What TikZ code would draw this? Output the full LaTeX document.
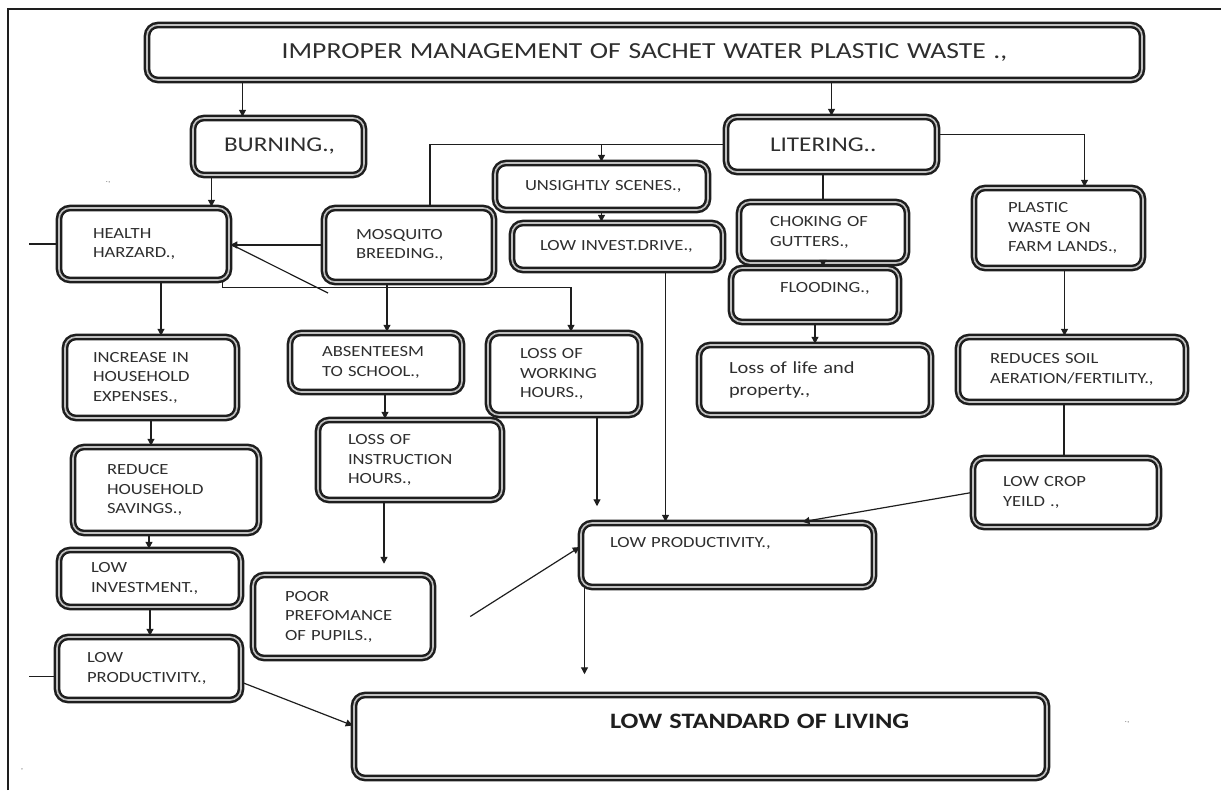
\documentclass[tikz,border=0pt]{standalone}
\usepackage{fontspec}
\setmainfont[FakeStretch=1.2]{Carlito}
\usetikzlibrary{arrows.meta, positioning}
\definecolor{ink}{HTML}{1E1E1E}
\definecolor{txt}{HTML}{2E2E2E}
\hyphenpenalty=10000
\exhyphenpenalty=10000

\begin{document}
\begin{tikzpicture}[x=1pt, y=-1pt,
  box/.style={draw=ink, line width=2.5pt, double=gray!50, double distance=1.6pt, rounded corners=11pt, align=left, inner xsep=1pt, inner ysep=2pt, text=txt, font=\fontsize{15.5}{19.5}\selectfont},
  big/.style={font=\fontsize{21}{25}\selectfont},
  arr/.style={-{Triangle[length=7pt,width=7pt]}, line width=1.2pt, draw=ink},
  ln/.style={line width=1.2pt, draw=ink},
  stray/.style={text=gray, font=\footnotesize, inner sep=0pt},
]
\useasboundingbox (0,0) rectangle (1221,790);
% ---- frame
\draw[line width=1.2pt, ink] (8,790) -- (8,9) -- (1221,9);

% ---- top row
\node[box, font=\fontsize{23}{27}\selectfont, align=center, minimum width=995pt, minimum height=55pt, text width=960pt] (top) at (644.5,52.5) {IMPROPER MANAGEMENT OF SACHET WATER PLASTIC WASTE~.,};
\node[box, big, minimum width=171pt, minimum height=57pt, text width=109pt] (burn) at (278.5,146.5) {BURNING.,};
\node[box, big, minimum width=211pt, minimum height=55pt, text width=123pt] (lit) at (831.5,144.5) {LITERING..};

% ---- litering side
\node[box, minimum width=213pt, minimum height=47pt, text width=153pt] (ugly) at (601.5,186.5) {\mbox{UNSIGHTLY SCENES.,}};
\node[box, minimum width=211pt, minimum height=47pt, text width=155pt] (drive) at (617.5,246.5) {\mbox{LOW INVEST.DRIVE.,}};
\node[box, minimum width=168pt, minimum height=61pt, text width=106pt] (choke) at (823,232.5) {\mbox{CHOKING OF}\\GUTTERS.,};
\node[box, minimum width=168pt, minimum height=54pt, text width=70pt, text depth=16pt] (flood) at (815,295) {\mbox{FLOODING.,}};
\node[box, minimum width=169pt, minimum height=80pt, text width=101pt] (farm) at (1058.5,228) {PLASTIC\\\mbox{WASTE ON}\\\mbox{FARM LANDS.,}};
\node[box, font=\fontsize{17}{22}\selectfont, minimum width=232pt, minimum height=70pt, text width=172pt] (life) at (815,380) {\mbox{Loss of life and}\\property.,};
\node[box, minimum width=228pt, minimum height=65pt, text width=164pt] (soil) at (1072,369.5) {\mbox{REDUCES SOIL}\\\mbox{AERATION/FERTILITY.,}};
\node[box, minimum width=186pt, minimum height=69pt, text width=126pt] (crop) at (1066,492.5) {\mbox{LOW CROP}\\\mbox{YEILD .,}};
\node[box, minimum width=293pt, minimum height=64pt, text width=235pt, text depth=26pt] (prodm) at (727.5,555) {\mbox{LOW PRODUCTIVITY.,}};

% ---- burning side
\node[box, minimum width=170pt, minimum height=72pt, text width=102pt] (health) at (144,244) {HEALTH\\\mbox{HARZARD.,}};
\node[box, minimum width=170pt, minimum height=74pt, text width=106pt] (mosq) at (409,245) {MOSQUITO\\\mbox{BREEDING.,}};
\node[box, minimum width=172pt, minimum height=81pt, text width=116pt] (expense) at (151,377.5) {\mbox{INCREASE IN}\\HOUSEHOLD\\\mbox{EXPENSES.,}};
\node[box, minimum width=172pt, minimum height=59pt, text width=108pt] (absent) at (376,362.5) {\mbox{ABSENTEESM}\\\mbox{TO SCHOOL.,}};
\node[box, minimum width=152pt, minimum height=82pt, text width=88pt] (work) at (564,374) {\mbox{LOSS OF}\\WORKING\\\mbox{HOURS.,}};
\node[box, minimum width=184pt, minimum height=80pt, text width=124pt] (instr) at (410,460) {\mbox{LOSS OF}\\INSTRUCTION\\\mbox{HOURS.,}};
\node[box, minimum width=186pt, minimum height=86pt, text width=118pt] (saving) at (166,490) {REDUCE\\HOUSEHOLD\\\mbox{SAVINGS.,}};
\node[box, minimum width=182pt, minimum height=57pt, text width=118pt] (invest) at (150,578.5) {LOW\\\mbox{INVESTMENT.,}};
\node[box, minimum width=180pt, minimum height=83pt, text width=116pt] (pupil) at (343,616.5) {POOR\\PREFOMANCE\\\mbox{OF PUPILS.,}};
\node[box, minimum width=184pt, minimum height=63pt, text width=124pt] (prodl) at (149,668.5) {LOW\\\mbox{PRODUCTIVITY.,}};

% ---- outcome
\node[box, font=\bfseries\fontsize{22}{26}\selectfont, text=ink, minimum width=693pt, minimum height=83pt, text width=181pt, text depth=31pt] (living) at (700.5,736.5) {\mbox{LOW STANDARD OF LIVING}};

% ---- stray marks
\node[stray] (m1) at (108,183) {.,};
\node[stray] (m2) at (1127,723) {.,};
\node[stray] (m3) at (22,770) {,};

% ---- top level
\draw[arr] ([xshift=-36pt]burn.north |- top.south) -- ([xshift=-36pt]burn.north);
\draw[arr] (top.south -| lit.north) -- (lit.north);
\draw[arr] ([xshift=-67pt]burn.south) -- ([xshift=-67pt]burn.south |- health.north);

% ---- litering branches
\draw[ln] (lit.west) -| ([xshift=21pt]mosq.north);
\draw[arr] (lit.west -| ugly.north) -- (ugly.north);
\draw[arr] ([yshift=10pt]lit.east) -| ([xshift=26pt]farm.north);
\draw[ln] (lit.south -| choke.north) -- (choke.north);
\draw[arr] (ugly.south) -- (ugly.south |- drive.north);
\draw[arr] ([xshift=-62pt]prodm.north |- drive.south) -- ([xshift=-62pt]prodm.north);
\draw[arr] (choke.south) -- (choke.south |- flood.north);
\draw[arr] (flood.south) -- (flood.south |- life.north);
\draw[arr] ([xshift=6pt]farm.south) -- ([xshift=6pt]farm.south |- soil.north);
\draw[ln] ([xshift=-8pt]soil.south) -- ([xshift=-8pt]soil.south |- crop.north);
\draw[arr] (crop.west) -- ([xshift=75pt]prodm.north);

% ---- health cluster
\draw[arr] (mosq.west) -- (mosq.west -| health.east);
\coordinate (stub) at (328,293);
\draw[ln] (stub) -- (health.east);
\draw[ln] (health.west) -- ++(-29,0);
\draw[arr] ([xshift=17pt]health.south) -- ([xshift=17pt]health.south |- expense.north);
\draw[arr] ([xshift=-8pt]health.south east) -- ++(0,6) -| ([xshift=7pt]work.north);
\draw[arr] ([xshift=-22pt]mosq.south) -- ([xshift=-22pt]mosq.south |- absent.north);
\draw[arr] ([xshift=9pt]absent.south) -- ([xshift=9pt]absent.south |- instr.north);
\draw[arr, shorten >=10pt] ([xshift=-26pt]instr.south) -- ([xshift=-26pt]instr.south |- pupil.north);
\draw[arr] ([xshift=33pt]work.south) -- ++(0,90);
\draw[arr] ([xshift=-143pt]prodm.south) -- ++(0,86);
\draw[arr] ([xshift=36pt]pupil.east) -- ([yshift=8pt]prodm.west);

% ---- left column
\draw[arr] (expense.south) -- (expense.south |- saving.north);
\draw[arr] ([xshift=-17pt]saving.south) -- ([xshift=-17pt]saving.south |- invest.north);
\draw[arr] (invest.south) -- (invest.south |- prodl.north);
\draw[ln] ([yshift=-8pt]prodl.west) -- ++(-27,0);
\draw[arr] ([yshift=-14pt]prodl.east) -- ([yshift=11pt]living.west);
\end{tikzpicture}
\end{document}
